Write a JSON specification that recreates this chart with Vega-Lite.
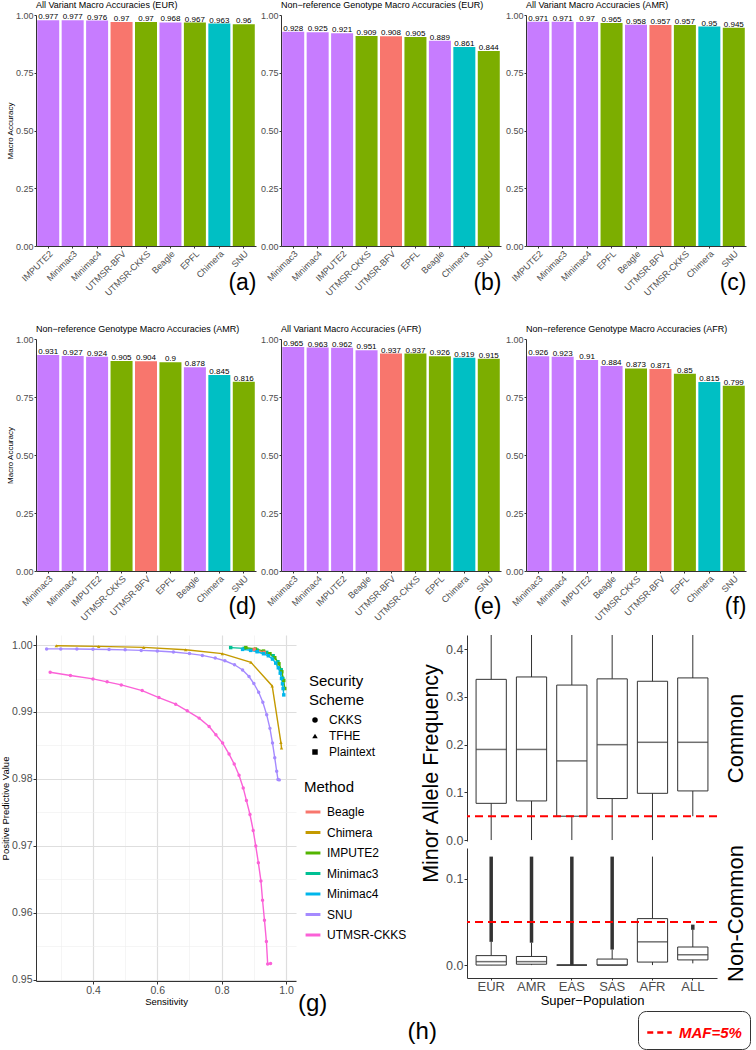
{
  "$schema": "https://vega.github.io/schema/vega-lite/v6.json",
  "padding": {"left": 0, "top": 1, "right": 0, "bottom": 0},
  "background": "white",
  "config": {
    "font": "Liberation Sans",
    "view": {"stroke": null},
    "axis": {"grid": false, "domainColor": "#333333", "tickColor": "#333333", "labelColor": "#4d4d4d", "titleColor": "#000000", "titleFontWeight": "normal", "labelFontSize": 9, "titleFontSize": 8, "tickSize": 2, "labelPadding": 1, "titlePadding": 1},
    "title": {"fontWeight": "normal", "fontSize": 9, "anchor": "start", "frame": "group", "color": "#000000", "offset": 1},
    "legend": {"titleFontWeight": "normal", "titleColor": "#000000", "labelColor": "#000000"}
  },
  "datasets": {
    "bars": [
      {"panel": "a", "method": "IMPUTE2", "scheme": "Plaintext", "acc": 0.977},
      {"panel": "a", "method": "Minimac3", "scheme": "Plaintext", "acc": 0.977},
      {"panel": "a", "method": "Minimac4", "scheme": "Plaintext", "acc": 0.976},
      {"panel": "a", "method": "UTMSR-BFV", "scheme": "BFV", "acc": 0.97},
      {"panel": "a", "method": "UTMSR-CKKS", "scheme": "CKKS", "acc": 0.97},
      {"panel": "a", "method": "Beagle", "scheme": "Plaintext", "acc": 0.968},
      {"panel": "a", "method": "EPFL", "scheme": "CKKS", "acc": 0.967},
      {"panel": "a", "method": "Chimera", "scheme": "TFHE", "acc": 0.963},
      {"panel": "a", "method": "SNU", "scheme": "CKKS", "acc": 0.96},
      {"panel": "b", "method": "Minimac3", "scheme": "Plaintext", "acc": 0.928},
      {"panel": "b", "method": "Minimac4", "scheme": "Plaintext", "acc": 0.925},
      {"panel": "b", "method": "IMPUTE2", "scheme": "Plaintext", "acc": 0.921},
      {"panel": "b", "method": "UTMSR-CKKS", "scheme": "CKKS", "acc": 0.909},
      {"panel": "b", "method": "UTMSR-BFV", "scheme": "BFV", "acc": 0.908},
      {"panel": "b", "method": "EPFL", "scheme": "CKKS", "acc": 0.905},
      {"panel": "b", "method": "Beagle", "scheme": "Plaintext", "acc": 0.889},
      {"panel": "b", "method": "Chimera", "scheme": "TFHE", "acc": 0.861},
      {"panel": "b", "method": "SNU", "scheme": "CKKS", "acc": 0.844},
      {"panel": "c", "method": "IMPUTE2", "scheme": "Plaintext", "acc": 0.971},
      {"panel": "c", "method": "Minimac3", "scheme": "Plaintext", "acc": 0.971},
      {"panel": "c", "method": "Minimac4", "scheme": "Plaintext", "acc": 0.97},
      {"panel": "c", "method": "EPFL", "scheme": "CKKS", "acc": 0.965},
      {"panel": "c", "method": "Beagle", "scheme": "Plaintext", "acc": 0.958},
      {"panel": "c", "method": "UTMSR-BFV", "scheme": "BFV", "acc": 0.957},
      {"panel": "c", "method": "UTMSR-CKKS", "scheme": "CKKS", "acc": 0.957},
      {"panel": "c", "method": "Chimera", "scheme": "TFHE", "acc": 0.95},
      {"panel": "c", "method": "SNU", "scheme": "CKKS", "acc": 0.945},
      {"panel": "d", "method": "Minimac3", "scheme": "Plaintext", "acc": 0.931},
      {"panel": "d", "method": "Minimac4", "scheme": "Plaintext", "acc": 0.927},
      {"panel": "d", "method": "IMPUTE2", "scheme": "Plaintext", "acc": 0.924},
      {"panel": "d", "method": "UTMSR-CKKS", "scheme": "CKKS", "acc": 0.905},
      {"panel": "d", "method": "UTMSR-BFV", "scheme": "BFV", "acc": 0.904},
      {"panel": "d", "method": "EPFL", "scheme": "CKKS", "acc": 0.9},
      {"panel": "d", "method": "Beagle", "scheme": "Plaintext", "acc": 0.878},
      {"panel": "d", "method": "Chimera", "scheme": "TFHE", "acc": 0.845},
      {"panel": "d", "method": "SNU", "scheme": "CKKS", "acc": 0.816},
      {"panel": "e", "method": "Minimac3", "scheme": "Plaintext", "acc": 0.965},
      {"panel": "e", "method": "Minimac4", "scheme": "Plaintext", "acc": 0.963},
      {"panel": "e", "method": "IMPUTE2", "scheme": "Plaintext", "acc": 0.962},
      {"panel": "e", "method": "Beagle", "scheme": "Plaintext", "acc": 0.951},
      {"panel": "e", "method": "UTMSR-BFV", "scheme": "BFV", "acc": 0.937},
      {"panel": "e", "method": "UTMSR-CKKS", "scheme": "CKKS", "acc": 0.937},
      {"panel": "e", "method": "EPFL", "scheme": "CKKS", "acc": 0.926},
      {"panel": "e", "method": "Chimera", "scheme": "TFHE", "acc": 0.919},
      {"panel": "e", "method": "SNU", "scheme": "CKKS", "acc": 0.915},
      {"panel": "f", "method": "Minimac3", "scheme": "Plaintext", "acc": 0.926},
      {"panel": "f", "method": "Minimac4", "scheme": "Plaintext", "acc": 0.923},
      {"panel": "f", "method": "IMPUTE2", "scheme": "Plaintext", "acc": 0.91},
      {"panel": "f", "method": "Beagle", "scheme": "Plaintext", "acc": 0.884},
      {"panel": "f", "method": "UTMSR-CKKS", "scheme": "CKKS", "acc": 0.873},
      {"panel": "f", "method": "UTMSR-BFV", "scheme": "BFV", "acc": 0.871},
      {"panel": "f", "method": "EPFL", "scheme": "CKKS", "acc": 0.85},
      {"panel": "f", "method": "Chimera", "scheme": "TFHE", "acc": 0.815},
      {"panel": "f", "method": "SNU", "scheme": "CKKS", "acc": 0.799}
    ],
    "roc": [
      {"method": "UTMSR-CKKS", "scheme": "CKKS", "sens": 0.267, "ppv": 0.99593},
      {"method": "UTMSR-CKKS", "scheme": "CKKS", "sens": 0.33, "ppv": 0.99545},
      {"method": "UTMSR-CKKS", "scheme": "CKKS", "sens": 0.4, "ppv": 0.99494},
      {"method": "UTMSR-CKKS", "scheme": "CKKS", "sens": 0.444, "ppv": 0.9945},
      {"method": "UTMSR-CKKS", "scheme": "CKKS", "sens": 0.488, "ppv": 0.99404},
      {"method": "UTMSR-CKKS", "scheme": "CKKS", "sens": 0.553, "ppv": 0.9932},
      {"method": "UTMSR-CKKS", "scheme": "CKKS", "sens": 0.605, "ppv": 0.99215},
      {"method": "UTMSR-CKKS", "scheme": "CKKS", "sens": 0.657, "ppv": 0.99116},
      {"method": "UTMSR-CKKS", "scheme": "CKKS", "sens": 0.693, "ppv": 0.99017},
      {"method": "UTMSR-CKKS", "scheme": "CKKS", "sens": 0.73, "ppv": 0.98908},
      {"method": "UTMSR-CKKS", "scheme": "CKKS", "sens": 0.761, "ppv": 0.98783},
      {"method": "UTMSR-CKKS", "scheme": "CKKS", "sens": 0.782, "ppv": 0.98659},
      {"method": "UTMSR-CKKS", "scheme": "CKKS", "sens": 0.803, "ppv": 0.98535},
      {"method": "UTMSR-CKKS", "scheme": "CKKS", "sens": 0.823, "ppv": 0.98371},
      {"method": "UTMSR-CKKS", "scheme": "CKKS", "sens": 0.839, "ppv": 0.98222},
      {"method": "UTMSR-CKKS", "scheme": "CKKS", "sens": 0.854, "ppv": 0.98054},
      {"method": "UTMSR-CKKS", "scheme": "CKKS", "sens": 0.867, "ppv": 0.97865},
      {"method": "UTMSR-CKKS", "scheme": "CKKS", "sens": 0.877, "ppv": 0.97676},
      {"method": "UTMSR-CKKS", "scheme": "CKKS", "sens": 0.888, "ppv": 0.97468},
      {"method": "UTMSR-CKKS", "scheme": "CKKS", "sens": 0.898, "ppv": 0.97229},
      {"method": "UTMSR-CKKS", "scheme": "CKKS", "sens": 0.906, "ppv": 0.96996},
      {"method": "UTMSR-CKKS", "scheme": "CKKS", "sens": 0.914, "ppv": 0.96748},
      {"method": "UTMSR-CKKS", "scheme": "CKKS", "sens": 0.922, "ppv": 0.96475},
      {"method": "UTMSR-CKKS", "scheme": "CKKS", "sens": 0.927, "ppv": 0.96187},
      {"method": "UTMSR-CKKS", "scheme": "CKKS", "sens": 0.933, "ppv": 0.95889},
      {"method": "UTMSR-CKKS", "scheme": "CKKS", "sens": 0.939, "ppv": 0.95571},
      {"method": "UTMSR-CKKS", "scheme": "CKKS", "sens": 0.943, "ppv": 0.95233},
      {"method": "UTMSR-CKKS", "scheme": "CKKS", "sens": 0.952, "ppv": 0.9524},
      {"method": "SNU", "scheme": "CKKS", "sens": 0.256, "ppv": 0.99942},
      {"method": "SNU", "scheme": "CKKS", "sens": 0.3, "ppv": 0.99942},
      {"method": "SNU", "scheme": "CKKS", "sens": 0.35, "ppv": 0.9994},
      {"method": "SNU", "scheme": "CKKS", "sens": 0.4, "ppv": 0.99938},
      {"method": "SNU", "scheme": "CKKS", "sens": 0.45, "ppv": 0.99934},
      {"method": "SNU", "scheme": "CKKS", "sens": 0.5, "ppv": 0.99928},
      {"method": "SNU", "scheme": "CKKS", "sens": 0.55, "ppv": 0.9992},
      {"method": "SNU", "scheme": "CKKS", "sens": 0.6, "ppv": 0.9991},
      {"method": "SNU", "scheme": "CKKS", "sens": 0.65, "ppv": 0.99895},
      {"method": "SNU", "scheme": "CKKS", "sens": 0.7, "ppv": 0.99872},
      {"method": "SNU", "scheme": "CKKS", "sens": 0.74, "ppv": 0.99845},
      {"method": "SNU", "scheme": "CKKS", "sens": 0.78, "ppv": 0.99805},
      {"method": "SNU", "scheme": "CKKS", "sens": 0.81, "ppv": 0.99765},
      {"method": "SNU", "scheme": "CKKS", "sens": 0.84, "ppv": 0.99705},
      {"method": "SNU", "scheme": "CKKS", "sens": 0.865, "ppv": 0.99628},
      {"method": "SNU", "scheme": "CKKS", "sens": 0.885, "ppv": 0.9953},
      {"method": "SNU", "scheme": "CKKS", "sens": 0.9, "ppv": 0.99425},
      {"method": "SNU", "scheme": "CKKS", "sens": 0.915, "ppv": 0.99295},
      {"method": "SNU", "scheme": "CKKS", "sens": 0.928, "ppv": 0.99145},
      {"method": "SNU", "scheme": "CKKS", "sens": 0.94, "ppv": 0.98957},
      {"method": "SNU", "scheme": "CKKS", "sens": 0.95, "ppv": 0.98755},
      {"method": "SNU", "scheme": "CKKS", "sens": 0.958, "ppv": 0.98535},
      {"method": "SNU", "scheme": "CKKS", "sens": 0.965, "ppv": 0.98315},
      {"method": "SNU", "scheme": "CKKS", "sens": 0.971, "ppv": 0.98113},
      {"method": "SNU", "scheme": "CKKS", "sens": 0.975, "ppv": 0.9799},
      {"method": "SNU", "scheme": "CKKS", "sens": 0.979, "ppv": 0.97985},
      {"method": "Chimera", "scheme": "TFHE", "sens": 0.286, "ppv": 0.9999},
      {"method": "Chimera", "scheme": "TFHE", "sens": 0.418, "ppv": 0.9998},
      {"method": "Chimera", "scheme": "TFHE", "sens": 0.558, "ppv": 0.99965},
      {"method": "Chimera", "scheme": "TFHE", "sens": 0.688, "ppv": 0.9993},
      {"method": "Chimera", "scheme": "TFHE", "sens": 0.802, "ppv": 0.99871},
      {"method": "Chimera", "scheme": "TFHE", "sens": 0.891, "ppv": 0.99742},
      {"method": "Chimera", "scheme": "TFHE", "sens": 0.957, "ppv": 0.99389},
      {"method": "Chimera", "scheme": "TFHE", "sens": 0.984, "ppv": 0.98545},
      {"method": "Chimera", "scheme": "TFHE", "sens": 0.986, "ppv": 0.9846},
      {"method": "Minimac3", "scheme": "Plaintext", "sens": 0.828, "ppv": 0.99962},
      {"method": "Minimac3", "scheme": "Plaintext", "sens": 0.87, "ppv": 0.9995},
      {"method": "Minimac3", "scheme": "Plaintext", "sens": 0.91, "ppv": 0.99925},
      {"method": "Minimac3", "scheme": "Plaintext", "sens": 0.94, "ppv": 0.9989},
      {"method": "Minimac3", "scheme": "Plaintext", "sens": 0.96, "ppv": 0.9984},
      {"method": "Minimac3", "scheme": "Plaintext", "sens": 0.975, "ppv": 0.9975},
      {"method": "Minimac3", "scheme": "Plaintext", "sens": 0.985, "ppv": 0.9963},
      {"method": "Minimac3", "scheme": "Plaintext", "sens": 0.99, "ppv": 0.995},
      {"method": "IMPUTE2", "scheme": "Plaintext", "sens": 0.875, "ppv": 0.99962},
      {"method": "IMPUTE2", "scheme": "Plaintext", "sens": 0.905, "ppv": 0.9994},
      {"method": "IMPUTE2", "scheme": "Plaintext", "sens": 0.93, "ppv": 0.9991},
      {"method": "IMPUTE2", "scheme": "Plaintext", "sens": 0.95, "ppv": 0.9987},
      {"method": "IMPUTE2", "scheme": "Plaintext", "sens": 0.965, "ppv": 0.9981},
      {"method": "IMPUTE2", "scheme": "Plaintext", "sens": 0.978, "ppv": 0.9972},
      {"method": "IMPUTE2", "scheme": "Plaintext", "sens": 0.987, "ppv": 0.996},
      {"method": "IMPUTE2", "scheme": "Plaintext", "sens": 0.993, "ppv": 0.9947},
      {"method": "IMPUTE2", "scheme": "Plaintext", "sens": 0.996, "ppv": 0.9935},
      {"method": "Beagle", "scheme": "Plaintext", "sens": 0.901, "ppv": 0.99935},
      {"method": "Beagle", "scheme": "Plaintext", "sens": 0.932, "ppv": 0.9989},
      {"method": "Minimac4", "scheme": "Plaintext", "sens": 0.865, "ppv": 0.99935},
      {"method": "Minimac4", "scheme": "Plaintext", "sens": 0.89, "ppv": 0.9992},
      {"method": "Minimac4", "scheme": "Plaintext", "sens": 0.91, "ppv": 0.999},
      {"method": "Minimac4", "scheme": "Plaintext", "sens": 0.93, "ppv": 0.9987},
      {"method": "Minimac4", "scheme": "Plaintext", "sens": 0.945, "ppv": 0.9984},
      {"method": "Minimac4", "scheme": "Plaintext", "sens": 0.958, "ppv": 0.9979},
      {"method": "Minimac4", "scheme": "Plaintext", "sens": 0.968, "ppv": 0.9973},
      {"method": "Minimac4", "scheme": "Plaintext", "sens": 0.976, "ppv": 0.9966},
      {"method": "Minimac4", "scheme": "Plaintext", "sens": 0.982, "ppv": 0.9958},
      {"method": "Minimac4", "scheme": "Plaintext", "sens": 0.986, "ppv": 0.995},
      {"method": "Minimac4", "scheme": "Plaintext", "sens": 0.989, "ppv": 0.9942},
      {"method": "Minimac4", "scheme": "Plaintext", "sens": 0.991, "ppv": 0.9935},
      {"method": "Minimac4", "scheme": "Plaintext", "sens": 0.993, "ppv": 0.99255}
    ],
    "box_c": [
      {"pop": "EUR", "lower": 0.0, "q1": 0.077, "median": 0.19, "q3": 0.337, "upper": 0.5},
      {"pop": "AMR", "lower": 0.0, "q1": 0.082, "median": 0.19, "q3": 0.342, "upper": 0.5},
      {"pop": "EAS", "lower": 0.0, "q1": 0.05, "median": 0.166, "q3": 0.325, "upper": 0.5},
      {"pop": "SAS", "lower": 0.0, "q1": 0.087, "median": 0.2, "q3": 0.338, "upper": 0.5},
      {"pop": "AFR", "lower": 0.0, "q1": 0.098, "median": 0.205, "q3": 0.333, "upper": 0.5},
      {"pop": "ALL", "lower": 0.05, "q1": 0.103, "median": 0.205, "q3": 0.34, "upper": 0.5}
    ],
    "box_n": [
      {"pop": "EUR", "lower": 0.0, "q1": 0.0, "median": 0.004, "q3": 0.011, "upper": 0.027, "out_lo": 0.027, "out_hi": 0.126},
      {"pop": "AMR", "lower": 0.0, "q1": 0.001, "median": 0.004, "q3": 0.01, "upper": 0.026, "out_lo": 0.026, "out_hi": 0.126},
      {"pop": "EAS", "lower": 0.0, "q1": 0.0, "median": 0.0, "q3": 0.0, "upper": 0.0, "out_lo": 0.0, "out_hi": 0.126},
      {"pop": "SAS", "lower": 0.0, "q1": 0.0, "median": 0.0, "q3": 0.007, "upper": 0.018, "out_lo": 0.018, "out_hi": 0.126},
      {"pop": "AFR", "lower": 0.0, "q1": 0.0035, "median": 0.027, "q3": 0.054, "upper": 0.126, "out_lo": null, "out_hi": null},
      {"pop": "ALL", "lower": 0.002, "q1": 0.006, "median": 0.012, "q3": 0.021, "upper": 0.041, "out_lo": 0.041, "out_hi": 0.047}
    ]
  },
  "resolve": {"scale": {"color": "independent", "shape": "independent"}, "legend": {"color": "independent", "shape": "independent"}},
  "spacing": 12,
  "vconcat": [
    {
      "spacing": 27,
      "vconcat": [
        {
          "spacing": 4,
          "hconcat": [
            {
              "width": 220, "height": 231,
              "title": {"text": "All Variant Macro Accuracies (EUR)"},
              "data": {"name": "bars"},
              "transform": [{"filter": "datum.panel == 'a'"}],
              "encoding": {
                "x": {"field": "method", "type": "nominal", "sort": null, "scale": {"paddingInner": 0.1, "paddingOuter": 0.05}, "axis": {"title": "(a)", "labelAngle": -45, "titleFontSize": 23, "titleAnchor": "end", "titleBaseline": "alphabetic", "titleY": 43}},
                "y": {"field": "acc", "type": "quantitative", "scale": {"domain": [0, 1], "nice": false}, "axis": {"title": "Macro Accuracy", "values": [0, 0.25, 0.5, 0.75, 1], "format": ".2f"}}
              },
              "layer": [
                {"mark": {"type": "bar"}, "encoding": {"color": {"field": "scheme", "type": "nominal", "scale": {"domain": ["Plaintext", "BFV", "CKKS", "TFHE"], "range": ["#C77CFF", "#F8766D", "#7CAE00", "#00BFC4"]}, "legend": null}}},
                {"mark": {"type": "text", "baseline": "bottom", "dy": 1, "fontSize": 8, "color": "#000000"}, "encoding": {"text": {"field": "acc", "type": "quantitative", "format": "~g"}}}
              ]
            },
            {
              "width": 220, "height": 231,
              "title": {"text": "Non−reference Genotype Macro Accuracies (EUR)"},
              "data": {"name": "bars"},
              "transform": [{"filter": "datum.panel == 'b'"}],
              "encoding": {
                "x": {"field": "method", "type": "nominal", "sort": null, "scale": {"paddingInner": 0.1, "paddingOuter": 0.05}, "axis": {"title": "(b)", "labelAngle": -45, "titleFontSize": 23, "titleAnchor": "end", "titleBaseline": "alphabetic", "titleY": 43}},
                "y": {"field": "acc", "type": "quantitative", "scale": {"domain": [0, 1], "nice": false}, "axis": {"title": null, "values": [0, 0.25, 0.5, 0.75, 1], "format": ".2f"}}
              },
              "layer": [
                {"mark": {"type": "bar"}, "encoding": {"color": {"field": "scheme", "type": "nominal", "scale": {"domain": ["Plaintext", "BFV", "CKKS", "TFHE"], "range": ["#C77CFF", "#F8766D", "#7CAE00", "#00BFC4"]}, "legend": null}}},
                {"mark": {"type": "text", "baseline": "bottom", "dy": 1, "fontSize": 8, "color": "#000000"}, "encoding": {"text": {"field": "acc", "type": "quantitative", "format": "~g"}}}
              ]
            },
            {
              "width": 220, "height": 231,
              "title": {"text": "All Variant Macro Accuracies (AMR)"},
              "data": {"name": "bars"},
              "transform": [{"filter": "datum.panel == 'c'"}],
              "encoding": {
                "x": {"field": "method", "type": "nominal", "sort": null, "scale": {"paddingInner": 0.1, "paddingOuter": 0.05}, "axis": {"title": "(c)", "labelAngle": -45, "titleFontSize": 23, "titleAnchor": "end", "titleBaseline": "alphabetic", "titleY": 43}},
                "y": {"field": "acc", "type": "quantitative", "scale": {"domain": [0, 1], "nice": false}, "axis": {"title": null, "values": [0, 0.25, 0.5, 0.75, 1], "format": ".2f"}}
              },
              "layer": [
                {"mark": {"type": "bar"}, "encoding": {"color": {"field": "scheme", "type": "nominal", "scale": {"domain": ["Plaintext", "BFV", "CKKS", "TFHE"], "range": ["#C77CFF", "#F8766D", "#7CAE00", "#00BFC4"]}, "legend": null}}},
                {"mark": {"type": "text", "baseline": "bottom", "dy": 1, "fontSize": 8, "color": "#000000"}, "encoding": {"text": {"field": "acc", "type": "quantitative", "format": "~g"}}}
              ]
            }
          ]
        },
        {
          "spacing": 4,
          "hconcat": [
            {
              "width": 220, "height": 232,
              "title": {"text": "Non−reference Genotype Macro Accuracies (AMR)"},
              "data": {"name": "bars"},
              "transform": [{"filter": "datum.panel == 'd'"}],
              "encoding": {
                "x": {"field": "method", "type": "nominal", "sort": null, "scale": {"paddingInner": 0.1, "paddingOuter": 0.05}, "axis": {"title": "(d)", "labelAngle": -45, "titleFontSize": 23, "titleAnchor": "end", "titleBaseline": "alphabetic", "titleY": 42}},
                "y": {"field": "acc", "type": "quantitative", "scale": {"domain": [0, 1], "nice": false}, "axis": {"title": "Macro Accuracy", "values": [0, 0.25, 0.5, 0.75, 1], "format": ".2f"}}
              },
              "layer": [
                {"mark": {"type": "bar"}, "encoding": {"color": {"field": "scheme", "type": "nominal", "scale": {"domain": ["Plaintext", "BFV", "CKKS", "TFHE"], "range": ["#C77CFF", "#F8766D", "#7CAE00", "#00BFC4"]}, "legend": null}}},
                {"mark": {"type": "text", "baseline": "bottom", "dy": 1, "fontSize": 8, "color": "#000000"}, "encoding": {"text": {"field": "acc", "type": "quantitative", "format": "~g"}}}
              ]
            },
            {
              "width": 220, "height": 232,
              "title": {"text": "All Variant Macro Accuracies (AFR)"},
              "data": {"name": "bars"},
              "transform": [{"filter": "datum.panel == 'e'"}],
              "encoding": {
                "x": {"field": "method", "type": "nominal", "sort": null, "scale": {"paddingInner": 0.1, "paddingOuter": 0.05}, "axis": {"title": "(e)", "labelAngle": -45, "titleFontSize": 23, "titleAnchor": "end", "titleBaseline": "alphabetic", "titleY": 42}},
                "y": {"field": "acc", "type": "quantitative", "scale": {"domain": [0, 1], "nice": false}, "axis": {"title": null, "values": [0, 0.25, 0.5, 0.75, 1], "format": ".2f"}}
              },
              "layer": [
                {"mark": {"type": "bar"}, "encoding": {"color": {"field": "scheme", "type": "nominal", "scale": {"domain": ["Plaintext", "BFV", "CKKS", "TFHE"], "range": ["#C77CFF", "#F8766D", "#7CAE00", "#00BFC4"]}, "legend": null}}},
                {"mark": {"type": "text", "baseline": "bottom", "dy": 1, "fontSize": 8, "color": "#000000"}, "encoding": {"text": {"field": "acc", "type": "quantitative", "format": "~g"}}}
              ]
            },
            {
              "width": 220, "height": 232,
              "title": {"text": "Non−reference Genotype Macro Accuracies (AFR)"},
              "data": {"name": "bars"},
              "transform": [{"filter": "datum.panel == 'f'"}],
              "encoding": {
                "x": {"field": "method", "type": "nominal", "sort": null, "scale": {"paddingInner": 0.1, "paddingOuter": 0.05}, "axis": {"title": "(f)", "labelAngle": -45, "titleFontSize": 23, "titleAnchor": "end", "titleBaseline": "alphabetic", "titleY": 42}},
                "y": {"field": "acc", "type": "quantitative", "scale": {"domain": [0, 1], "nice": false}, "axis": {"title": null, "values": [0, 0.25, 0.5, 0.75, 1], "format": ".2f"}}
              },
              "layer": [
                {"mark": {"type": "bar"}, "encoding": {"color": {"field": "scheme", "type": "nominal", "scale": {"domain": ["Plaintext", "BFV", "CKKS", "TFHE"], "range": ["#C77CFF", "#F8766D", "#7CAE00", "#00BFC4"]}, "legend": null}}},
                {"mark": {"type": "text", "baseline": "bottom", "dy": 1, "fontSize": 8, "color": "#000000"}, "encoding": {"text": {"field": "acc", "type": "quantitative", "format": "~g"}}}
              ]
            }
          ]
        }
      ]
    },
    {
      "spacing": 0,
      "resolve": {"scale": {"color": "independent", "shape": "independent"}, "legend": {"color": "independent", "shape": "independent"}},
      "hconcat": [
        {
          "width": 260, "height": 346,
          "data": {"name": "roc"},
          "title": {"text": "(g)", "orient": "bottom", "anchor": "end", "frame": "group", "align": "left", "fontSize": 24, "dx": 2, "dy": -15},
          "encoding": {
            "x": {"field": "sens", "type": "quantitative", "scale": {"domain": [0.223, 1.031], "nice": false, "zero": false},
              "axis": {"title": "Sensitivity", "values": [0.3, 0.4, 0.5, 0.6, 0.7, 0.8, 0.9, 1.0],
                "labelExpr": "round(datum.value*10) % 2 == 0 ? format(datum.value, '.1f') : ''",
                "grid": true,
                "gridColor": {"condition": {"test": "round(datum.value*10) % 2 == 0", "value": "#dedede"}, "value": "#eeeeee"},
                "gridWidth": {"condition": {"test": "round(datum.value*10) % 2 == 0", "value": 1.2}, "value": 0.6},
                "tickColor": {"condition": {"test": "round(datum.value*10) % 2 == 0", "value": "#333333"}, "value": "transparent"},
                "labelFontSize": 10.5, "titleFontSize": 9.5, "tickSize": 3, "labelPadding": 1}},
            "y": {"field": "ppv", "type": "quantitative", "scale": {"domain": [0.9498, 1.0015], "nice": false, "zero": false},
              "axis": {"title": "Positive Predictive Value", "values": [0.95, 0.955, 0.96, 0.965, 0.97, 0.975, 0.98, 0.985, 0.99, 0.995, 1.0],
                "labelExpr": "abs(datum.value*100 - round(datum.value*100)) < 0.01 ? format(datum.value, '.2f') : ''",
                "grid": true,
                "gridColor": {"condition": {"test": "abs(datum.value*100 - round(datum.value*100)) < 0.01", "value": "#dedede"}, "value": "#eeeeee"},
                "gridWidth": {"condition": {"test": "abs(datum.value*100 - round(datum.value*100)) < 0.01", "value": 1.2}, "value": 0.6},
                "tickColor": {"condition": {"test": "abs(datum.value*100 - round(datum.value*100)) < 0.01", "value": "#333333"}, "value": "transparent"},
                "labelFontSize": 10.5, "titleFontSize": 9.5, "tickSize": 3, "labelPadding": 1}},
            "color": {"field": "method", "type": "nominal",
              "scale": {"domain": ["Beagle", "Chimera", "IMPUTE2", "Minimac3", "Minimac4", "SNU", "UTMSR-CKKS"], "range": ["#F8766D", "#C49A00", "#53B400", "#00C094", "#00B6EB", "#A58AFF", "#FB61D7"]},
              "legend": {"orient": "none", "legendX": 268, "legendY": 145, "title": "Method", "titleFontSize": 15, "labelFontSize": 12, "symbolType": "stroke", "symbolStrokeWidth": 3, "symbolSize": 220, "rowPadding": 5.5, "titlePadding": 8, "labelOffset": 5}}
          },
          "layer": [
            {"mark": {"type": "line", "strokeWidth": 1.4}},
            {"mark": {"type": "point", "filled": true, "size": 12, "opacity": 1},
              "encoding": {"shape": {"field": "scheme", "type": "nominal",
                "scale": {"domain": ["CKKS", "TFHE", "Plaintext"], "range": ["circle", "triangle-up", "square"]},
                "legend": {"orient": "none", "legendX": 273, "legendY": 39, "title": ["Security", "Scheme"], "titleFontSize": 15, "titleLineHeight": 19, "labelFontSize": 12, "symbolSize": 30, "rowPadding": 4, "titlePadding": 6, "labelOffset": 8,
                  "encode": {"symbols": {"update": {"fill": {"value": "#000000"}, "stroke": {"value": "#000000"}}}}}}}}
          ]
        },
        {
          "spacing": 7,
          "bounds": "flush",
          "vconcat": [
            {
              "width": 250, "height": 206,
              "data": {"name": "box_c"},
              "resolve": {"scale": {"y": "independent"}},
              "layer": [
                {
                  "encoding": {"x": {"field": "pop", "type": "nominal", "sort": null, "scale": {"paddingInner": 0, "paddingOuter": 0.1}, "axis": null}},
                  "layer": [
                    {"mark": {"type": "rule", "color": "#333333", "clip": true},
                      "encoding": {"y": {"field": "lower", "type": "quantitative", "scale": {"domain": [-0.002, 0.43], "nice": false, "zero": false},
                        "axis": {"title": "Minor Allele Frequency", "values": [0, 0.1, 0.2, 0.3, 0.4], "format": ".1f", "labelFontSize": 12.5, "titleFontSize": 21.5, "titleY": 138, "titlePadding": 3, "tickSize": 3, "labelPadding": 1}},
                        "y2": {"field": "upper"}}},
                    {"mark": {"type": "bar", "fill": "white", "stroke": "#333333", "strokeWidth": 1, "width": {"band": 0.75}},
                      "encoding": {"y": {"field": "q1", "type": "quantitative"}, "y2": {"field": "q3"}}},
                    {"mark": {"type": "tick", "color": "#333333", "thickness": 1.5, "size": 30},
                      "encoding": {"y": {"field": "median", "type": "quantitative"}}}
                  ]
                },
                {
                  "data": {"values": [{}]},
                  "mark": {"type": "rule", "color": "#ff0000", "strokeDash": [8, 5], "strokeWidth": 2},
                  "encoding": {"y": {"datum": 0.05, "type": "quantitative", "scale": {"domain": [-0.002, 0.43], "nice": false, "zero": false},
                    "axis": {"orient": "right", "title": "Common", "labels": false, "ticks": false, "domain": false, "titleAngle": 270, "titleBaseline": "top", "titleFontSize": 22, "titlePadding": 8, "titleColor": "#000000"}}}
                }
              ]
            },
            {
              "width": 250, "height": 130,
              "data": {"name": "box_n"},
              "title": {"text": "(h)", "orient": "bottom", "anchor": "start", "frame": "bounds", "fontSize": 24, "dx": -38, "dy": 12},
              "resolve": {"scale": {"y": "independent"}},
              "layer": [
                {
                  "encoding": {"x": {"field": "pop", "type": "nominal", "sort": null, "scale": {"paddingInner": 0, "paddingOuter": 0.1},
                    "axis": {"title": "Super−Population", "labelAngle": 0, "labelFontSize": 13, "titleFontSize": 13, "tickSize": 2, "labelPadding": 0, "titlePadding": 1}}},
                  "layer": [
                    {"mark": {"type": "rule", "color": "#333333", "clip": true},
                      "encoding": {"y": {"field": "lower", "type": "quantitative", "scale": {"domain": [-0.015, 0.136], "nice": false, "zero": false},
                        "axis": {"title": null, "values": [0, 0.1], "format": ".1f", "labelFontSize": 12.5, "tickSize": 3, "labelPadding": 1}},
                        "y2": {"field": "upper"}}},
                    {"mark": {"type": "rule", "color": "#333333", "strokeWidth": 3.5},
                      "encoding": {"y": {"field": "out_lo", "type": "quantitative"}, "y2": {"field": "out_hi"}}},
                    {"mark": {"type": "bar", "fill": "white", "stroke": "#333333", "strokeWidth": 1, "width": {"band": 0.75}},
                      "encoding": {"y": {"field": "q1", "type": "quantitative"}, "y2": {"field": "q3"}}},
                    {"mark": {"type": "tick", "color": "#333333", "thickness": 1.5, "size": 30},
                      "encoding": {"y": {"field": "median", "type": "quantitative"}}}
                  ]
                },
                {
                  "data": {"values": [{}]},
                  "mark": {"type": "rule", "strokeDash": [8, 5], "strokeWidth": 2},
                  "encoding": {
                    "y": {"datum": 0.05, "type": "quantitative", "scale": {"domain": [-0.015, 0.136], "nice": false, "zero": false},
                      "axis": {"orient": "right", "title": "Non-Common", "labels": false, "ticks": false, "domain": false, "titleAngle": 270, "titleBaseline": "top", "titleFontSize": 22, "titlePadding": 8, "titleColor": "#000000"}},
                    "color": {"datum": "MAF=5%", "type": "nominal", "scale": {"range": ["#ff0000"]},
                      "legend": {"orient": "none", "legendX": 171, "legendY": 376, "title": null, "symbolType": "stroke", "symbolDash": [6, 4], "symbolStrokeWidth": 2.5, "symbolSize": 600, "labelFontSize": 15, "labelFontWeight": "bold", "labelFontStyle": "italic", "labelColor": "#ff0000", "strokeColor": "#333333", "cornerRadius": 8, "padding": 8, "fillColor": "white", "labelOffset": 6}}
                  }
                }
              ]
            }
          ]
        }
      ]
    }
  ]
}
